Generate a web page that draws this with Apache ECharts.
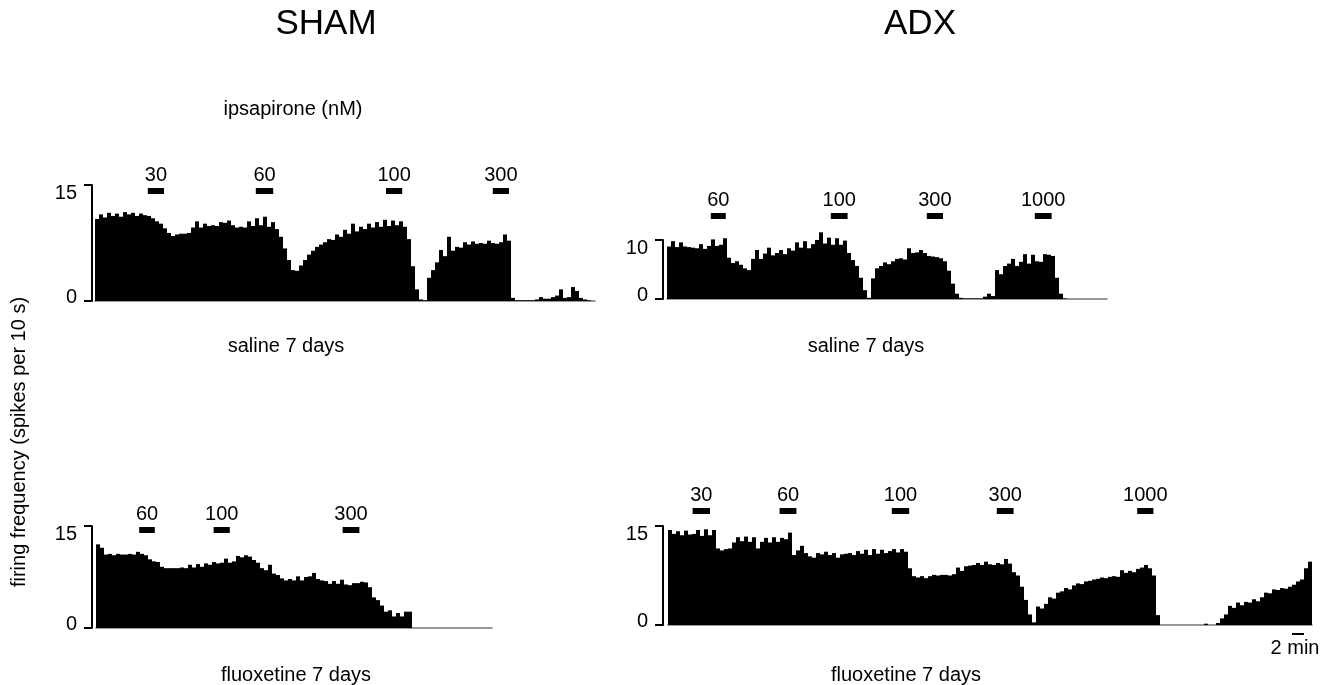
<!DOCTYPE html>
<html>
<head>
<meta charset="utf-8">
<title>Ipsapirone firing rate</title>
<script src="https://cdn.jsdelivr.net/npm/echarts@6/dist/echarts.min.js"></script>
<style>
  html, body { margin: 0; padding: 0; background: #fff; }
  #chart { width: 1330px; height: 685px; }
</style>
</head>
<body>
<div id="chart"></div>
<script>
// firing rate (spikes per 10 s), one value per 40 s bin
const BIN_MIN = 2 / 3

const shamSaline = [
  10.6, 11.2, 10.8, 11.4, 11.0, 11.3, 10.9, 11.5, 11.2, 11.4, 11.0, 11.3, 11.1, 11.0, 10.7, 10.3,
  10.0, 9.4, 8.8, 8.4, 8.6, 8.7, 8.7, 8.8,
  9.5, 10.3, 9.5, 10.0, 9.7, 9.8, 9.7, 10.2, 10.1, 10.4, 9.8, 9.5, 9.6, 9.5, 10.3, 9.7, 10.7, 9.8, 10.9, 9.6, 10.2, 9.3,
  8.3, 6.8, 5.3, 4.0, 3.9,
  4.6, 5.3, 6.0, 6.5, 7.0, 7.3,
  7.6, 8.0, 7.9, 8.6, 8.3, 9.2, 8.7, 10.0, 9.0, 9.6, 9.3, 10.0, 9.5, 10.2, 9.6, 10.5, 9.7, 10.4, 9.8, 10.3, 9.6,
  8.0, 4.5, 1.5, 0.2, 0.1,
  3.0, 4.0, 5.0, 6.6, 5.8, 8.3, 6.5, 7.0, 6.9, 7.6, 7.3, 7.7, 7.4, 7.5, 7.4, 7.8, 7.5, 7.4, 7.6, 8.6, 7.8,
  0.4, 0.1, 0.1, 0.1, 0.1, 0.1, 0.2, 0.5, 0.3, 0.3, 0.5, 0.7, 1.5, 0.4, 0.5, 1.8, 1.3, 0.4, 0.2, 0.1, 0
]

const adxSaline = [
  8.9, 9.8, 8.8, 9.6, 8.9, 8.8, 8.7, 8.6, 9.3, 8.5,
  9.0, 10.1, 9.0, 9.2, 10.3, 7.0, 6.1, 6.4, 5.8, 5.2,
  4.9, 6.8, 8.3, 6.8, 7.7, 8.7, 7.4, 7.8, 8.3, 7.6,
  8.6, 8.2, 9.6, 8.7, 9.8, 8.6, 9.3, 10.0, 11.3, 9.4,
  10.4, 9.2, 10.3, 9.2, 9.9, 7.8, 6.6, 5.6, 3.6, 1.5,
  0.2, 3.5, 5.2, 5.6, 6.2, 5.9, 6.4, 6.8, 6.9, 6.7,
  8.6, 7.8, 7.9, 8.3, 7.8, 7.3, 7.2, 7.1, 6.9, 6.4,
  4.8, 2.6, 0.9, 0.2, 0.1, 0.1, 0.1, 0.1, 0.1, 0.4,
  0.9, 0.5, 4.9, 4.2, 5.6, 6.0, 6.8, 5.6, 6.3, 7.6,
  6.0, 7.5, 6.4, 6.3, 7.6, 7.5, 7.3, 3.6, 0.9, 0.1,
  0, 0, 0, 0, 0, 0, 0, 0, 0, 0
]

const shamFluox = [
  12.3, 11.8, 10.8, 10.9, 10.7, 10.9, 10.8, 10.8, 10.9, 10.8,
  11.2, 10.9, 10.7, 10.1, 9.8, 9.7, 9.0, 8.8, 8.8, 8.8,
  8.8, 8.9, 8.8, 9.3, 8.9, 9.4, 9.0, 9.5, 9.3, 9.7,
  9.5, 9.6, 10.2, 9.6, 9.8, 10.6, 10.4, 10.7, 10.5, 10.0,
  9.6, 8.8, 8.5, 9.3, 8.0, 7.8, 7.3, 7.0, 7.2, 7.0,
  7.6, 7.0, 7.5, 7.6, 8.1, 7.2, 7.0, 6.9, 6.5, 6.9,
  6.5, 7.1, 6.4, 6.3, 6.6, 6.6, 6.8, 6.7, 6.0, 4.5,
  4.1, 3.3, 2.4, 2.6, 1.7, 2.2, 1.7, 2.4, 2.4,
  0, 0, 0, 0, 0, 0, 0, 0, 0, 0, 0, 0, 0, 0, 0, 0, 0, 0, 0, 0
]

const adxFluox = [
  14.4, 13.8, 14.2, 13.6, 14.3, 13.7, 13.8, 14.4, 13.5, 14.5,
  13.6, 14.4, 11.6, 11.3, 11.5, 11.6, 12.5, 13.3, 12.7, 13.4,
  12.6, 13.3, 11.6, 12.6, 13.2, 12.5, 13.3, 12.6, 13.2, 13.0,
  14.0, 10.6, 11.3, 12.0, 10.9, 10.4, 10.2, 10.9, 10.7, 11.1,
  10.6, 10.9, 10.2, 10.7, 10.8, 10.9, 10.6, 11.2, 10.8, 11.4,
  10.6, 11.5, 10.8, 11.4, 10.9, 11.2, 11.5, 11.0, 11.5, 11.1,
  8.6, 7.4, 7.2, 7.4, 7.1, 7.4, 7.6, 7.5, 7.6, 7.6,
  7.5, 7.7, 8.7, 8.2, 8.9, 9.0, 9.1, 9.4, 9.1, 9.6,
  9.2, 9.1, 9.4, 9.2, 10.0, 9.3, 8.0, 7.5, 5.8, 3.8,
  1.6, 0.4, 2.8, 2.5, 3.2, 4.2, 4.0, 4.9, 5.1, 5.6,
  5.4, 6.0, 6.3, 6.2, 6.6, 6.7, 6.9, 7.0, 7.2, 7.1,
  7.3, 7.4, 7.3, 8.3, 7.9, 8.2, 8.0, 8.5, 8.7, 9.1,
  8.6, 7.5, 1.5, 0, 0, 0, 0, 0, 0, 0,
  0, 0, 0, 0, 0.2, 0, 0, 0.3, 1.0, 1.6,
  2.9, 2.6, 3.4, 3.0, 3.5, 3.4, 3.9, 3.6, 4.2, 4.9,
  4.8, 5.4, 5.3, 5.6, 5.5, 5.8, 6.1, 6.6, 6.9, 8.6,
  9.6
]

// ipsapirone applications (nM), start / end in minutes from start of record
const shamSalineDoses = ['30', '60', '100', '300']
const shamSalineStart = [8.8, 26.8, 48.5, 66.3]
const shamSalineEnd = [11.5, 29.7, 51.2, 69.0]

const adxSalineDoses = ['60', '100', '300', '1000']
const adxSalineStart = [7.3, 27.3, 43.3, 61.3]
const adxSalineEnd = [9.8, 30.1, 46.0, 64.1]

const shamFluoxDoses = ['60', '100', '300']
const shamFluoxStart = [7.2, 19.6, 41.1]
const shamFluoxEnd = [9.8, 22.3, 43.9]

const adxFluoxDoses = ['30', '60', '100', '300', '1000']
const adxFluoxStart = [4.1, 18.6, 37.3, 54.8, 78.2]
const adxFluoxEnd = [7.0, 21.4, 40.2, 57.6, 80.9]

// y-axis range per panel
const shamSalineYMax = 15
const adxSalineYMax = 10
const shamFluoxYMax = 15
const adxFluoxYMax = 15

// time scale bar (minutes)
const scaleBarStart = 104
const scaleBarLength = 2
const scaleBarLabel = '2 min'

const FONT = '"Liberation Sans", Arial, Helvetica, sans-serif'

const panels = [
  { values: shamSaline, doses: shamSalineDoses, start: shamSalineStart, end: shamSalineEnd, yMax: shamSalineYMax,
    grid: { left: 95, top: 185, width: 500, height: 116 }, axisOffset: 3, doseY: 14.3 },
  { values: adxSaline, doses: adxSalineDoses, start: adxSalineStart, end: adxSalineEnd, yMax: adxSalineYMax,
    grid: { left: 667, top: 240, width: 440, height: 59 }, axisOffset: 4, doseY: 14.1 },
  { values: shamFluox, doses: shamFluoxDoses, start: shamFluoxStart, end: shamFluoxEnd, yMax: shamFluoxYMax,
    grid: { left: 96, top: 526, width: 396, height: 102 }, axisOffset: 4, doseY: 14.5 },
  { values: adxFluox, doses: adxFluoxDoses, start: adxFluoxStart, end: adxFluoxEnd, yMax: adxFluoxYMax,
    grid: { left: 668, top: 526, width: 644, height: 99 }, axisOffset: 5, doseY: 17.3, scaleBarY: -1.4 }
]

const option = {
  animation: false,
  backgroundColor: '#fff',
  grid: [],
  xAxis: [],
  yAxis: [],
  series: [],
  graphic: []
}

panels.forEach((p, i) => {
  option.grid.push({ ...p.grid, containLabel: false, outerBoundsMode: 'none' })

  // histogram bins
  option.xAxis.push({
    type: 'category',
    gridIndex: i,
    data: p.values.map((_, k) => k),
    boundaryGap: true,
    axisLine: { show: true, onZero: false, lineStyle: { color: '#777', width: 1.5 } },
    axisTick: { show: false },
    axisLabel: { show: false },
    splitLine: { show: false }
  })
  // time in minutes, for drug bars
  option.xAxis.push({
    type: 'value',
    gridIndex: i,
    min: 0,
    max: p.values.length * BIN_MIN,
    show: false,
    axisLine: { onZero: false },
    splitLine: { show: false }
  })
  option.yAxis.push({
    type: 'value',
    gridIndex: i,
    min: 0,
    max: p.yMax,
    interval: p.yMax,
    offset: p.axisOffset,
    axisLine: { show: true, onZero: false, lineStyle: { color: '#000', width: 2 } },
    axisTick: { show: true, length: 8, lineStyle: { color: '#000', width: 2 } },
    splitLine: { show: false },
    axisLabel: {
      margin: 15,
      color: '#000',
      fontSize: 20,
      fontFamily: FONT,
      formatter: v => v === 0 ? '{lo|0}' : '{hi|' + v + '}',
      rich: {
        hi: { fontSize: 20, fontFamily: FONT, color: '#000', padding: [16, 0, 0, 0] },
        lo: { fontSize: 20, fontFamily: FONT, color: '#000', padding: [0, 0, 8, 0] }
      }
    }
  })

  option.series.push({
    type: 'bar',
    xAxisIndex: 2 * i,
    yAxisIndex: i,
    data: p.values,
    barCategoryGap: '0%',
    barGap: '0%',
    clip: false,
    silent: true,
    itemStyle: { color: '#000', borderWidth: 0, opacity: 1 }
  })

  option.series.push({
    type: 'lines',
    coordinateSystem: 'cartesian2d',
    xAxisIndex: 2 * i + 1,
    yAxisIndex: i,
    clip: false,
    silent: true,
    lineStyle: { color: '#000', width: 6, opacity: 1, cap: 'butt' },
    data: p.doses.map((d, k) => ({ coords: [[p.start[k], p.doseY], [p.end[k], p.doseY]] }))
  })

  option.series.push({
    type: 'scatter',
    xAxisIndex: 2 * i + 1,
    yAxisIndex: i,
    clip: false,
    silent: true,
    symbolSize: 0,
    itemStyle: { opacity: 1 },
    label: {
      show: true,
      position: 'top',
      distance: 5,
      formatter: '{b}',
      fontSize: 20,
      fontFamily: FONT,
      color: '#000',
      opacity: 1
    },
    data: p.doses.map((d, k) => ({ name: d, value: [(p.start[k] + p.end[k]) / 2, p.doseY] }))
  })

  if (p.scaleBarY !== undefined) {
    option.series.push({
      type: 'lines',
      coordinateSystem: 'cartesian2d',
      xAxisIndex: 2 * i + 1,
      yAxisIndex: i,
      clip: false,
      silent: true,
      lineStyle: { color: '#000', width: 2, opacity: 1 },
      data: [{ coords: [[scaleBarStart, p.scaleBarY], [scaleBarStart + scaleBarLength, p.scaleBarY]] }]
    })
    option.series.push({
      type: 'scatter',
      xAxisIndex: 2 * i + 1,
      yAxisIndex: i,
      clip: false,
      silent: true,
      symbolSize: 0,
      itemStyle: { opacity: 1 },
      label: {
        show: true,
        position: 'bottom',
        distance: 4,
        offset: [-3, 0],
        formatter: '{b}',
        fontSize: 20,
        fontFamily: FONT,
        color: '#000',
        opacity: 1
      },
      data: [{ name: scaleBarLabel, value: [scaleBarStart + scaleBarLength / 2, p.scaleBarY] }]
    })
  }
})

function text(str, x, y, size, rotation) {
  return {
    type: 'text',
    x: x,
    y: y,
    rotation: rotation || 0,
    silent: true,
    style: { text: str, fontSize: size, fontFamily: FONT, fill: '#000', align: 'center', verticalAlign: 'middle' }
  }
}

option.graphic = [
  text('SHAM', 326, 24, 35),
  text('ADX', 920, 24, 35),
  text('ipsapirone (nM)', 293, 109, 20),
  text('saline 7 days', 286, 346, 20),
  text('saline 7 days', 866, 346, 20),
  text('fluoxetine 7 days', 296, 675, 20),
  text('fluoxetine 7 days', 906, 675, 20),
  text('firing frequency (spikes per 10 s)', 19, 442, 20, Math.PI / 2)
]

const chart = echarts.init(document.getElementById('chart'), null, { renderer: 'canvas' })
chart.setOption(option)
window.addEventListener('resize', () => chart.resize())
</script>
</body>
</html>
